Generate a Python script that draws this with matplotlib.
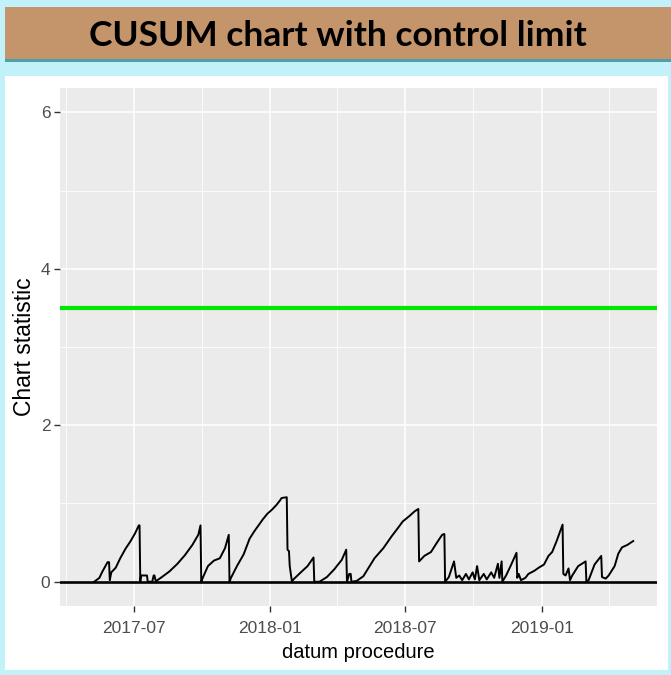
import numpy as np
import pandas as pd
import matplotlib
matplotlib.use("Agg")
import matplotlib.pyplot as plt
import matplotlib.dates as mdates
from matplotlib.patches import Rectangle

# CUSUM vertices
dates = [
    "2017-05-09", "2017-05-16", "2017-05-20", "2017-05-24", "2017-05-27", "2017-05-29",
    "2017-05-30", "2017-06-01", "2017-06-07", "2017-06-13", "2017-06-20", "2017-06-27",
    "2017-07-03", "2017-07-08", "2017-07-09", "2017-07-10", "2017-07-11", "2017-07-19",
    "2017-07-20", "2017-07-26", "2017-07-28", "2017-07-29", "2017-07-31", "2017-08-02",
    "2017-08-08", "2017-08-18", "2017-08-29", "2017-09-08", "2017-09-18", "2017-09-26",
    "2017-09-29", "2017-09-30", "2017-10-02", "2017-10-09", "2017-10-17", "2017-10-25",
    "2017-11-01", "2017-11-06", "2017-11-07", "2017-11-09", "2017-11-17", "2017-11-26",
    "2017-12-04", "2017-12-10", "2017-12-16", "2017-12-22", "2017-12-28", "2018-01-03",
    "2018-01-09", "2018-01-14", "2018-01-16", "2018-01-23", "2018-01-24", "2018-01-26",
    "2018-01-27", "2018-01-30", "2018-02-01", "2018-02-12", "2018-02-20", "2018-02-28",
    "2018-03-01", "2018-03-08", "2018-03-18", "2018-03-28", "2018-04-07", "2018-04-13",
    "2018-04-14", "2018-04-17", "2018-04-19", "2018-04-20", "2018-04-27", "2018-05-06",
    "2018-05-21", "2018-06-02", "2018-06-13", "2018-06-21", "2018-06-28", "2018-07-07",
    "2018-07-14", "2018-07-19", "2018-07-20", "2018-07-27", "2018-08-05", "2018-08-13",
    "2018-08-20", "2018-08-23", "2018-08-24", "2018-08-29", "2018-09-05", "2018-09-08",
    "2018-09-12", "2018-09-16", "2018-09-21", "2018-09-25", "2018-09-30", "2018-10-03",
    "2018-10-06", "2018-10-09", "2018-10-15", "2018-10-19", "2018-10-25", "2018-10-29",
    "2018-11-03", "2018-11-05", "2018-11-08", "2018-11-09", "2018-11-14", "2018-11-20",
    "2018-11-28", "2018-11-29", "2018-12-01", "2018-12-04", "2018-12-10", "2018-12-14",
    "2018-12-22", "2018-12-28", "2019-01-04", "2019-01-10", "2019-01-15", "2019-01-21",
    "2019-01-29", "2019-01-30", "2019-02-02", "2019-02-06", "2019-02-08", "2019-02-11",
    "2019-02-19", "2019-03-01", "2019-03-02", "2019-03-05", "2019-03-13", "2019-03-22",
    "2019-03-23", "2019-03-28", "2019-04-01", "2019-04-09", "2019-04-14", "2019-04-19",
    "2019-04-26", "2019-05-04",
]
cusum = [
    0.00, 0.05, 0.13, 0.20, 0.25, 0.25,
    0.02, 0.12, 0.18, 0.30, 0.42, 0.52,
    0.62, 0.72, 0.72, 0.00, 0.08, 0.08,
    0.00, 0.00, 0.08, 0.08, 0.00, 0.02,
    0.06, 0.13, 0.23, 0.34, 0.47, 0.60,
    0.72, 0.00, 0.05, 0.20, 0.27, 0.30,
    0.43, 0.60, 0.00, 0.05, 0.20, 0.35,
    0.55, 0.64, 0.72, 0.80, 0.87, 0.92,
    0.98, 1.04, 1.07, 1.08, 0.41, 0.39,
    0.20, 0.00, 0.03, 0.13, 0.20, 0.31,
    0.00, 0.00, 0.06, 0.16, 0.28, 0.41,
    0.00, 0.10, 0.10, 0.00, 0.01, 0.07,
    0.30, 0.43, 0.58, 0.68, 0.77, 0.84,
    0.90, 0.93, 0.26, 0.33, 0.38, 0.50,
    0.60, 0.61, 0.00, 0.06, 0.26, 0.05,
    0.08, 0.02, 0.10, 0.03, 0.12, 0.03,
    0.20, 0.02, 0.10, 0.03, 0.12, 0.05,
    0.23, 0.05, 0.26, 0.00, 0.08, 0.20,
    0.37, 0.05, 0.10, 0.02, 0.05, 0.10,
    0.14, 0.18, 0.22, 0.33, 0.38, 0.52,
    0.73, 0.10, 0.08, 0.17, 0.02, 0.08,
    0.20, 0.26, 0.00, 0.02, 0.22, 0.33,
    0.06, 0.04, 0.08, 0.20, 0.36, 0.44,
    0.47, 0.52,
]
control_limit = 3.5
title = "CUSUM chart with control limit"
x_label = "datum procedure"
y_label = "Chart statistic"
x_range = ["2017-03-24", "2019-06-05"]
x_major = ["2017-07-01", "2018-01-01", "2018-07-01", "2019-01-01"]
x_minor = ["2017-04-01", "2017-10-01", "2018-04-01", "2018-10-01", "2019-04-01"]

W, H = 671, 675
fig = plt.figure(figsize=(W / 100, H / 100), dpi=100)
fig.patch.set_facecolor("#c2f1f9")

def box(x0, y0, x1, y1, **kw):
    # rectangle given in pixel coords (top-left origin), kept behind the axes
    fig.add_artist(Rectangle((x0 / W, 1 - y1 / H), (x1 - x0) / W, (y1 - y0) / H,
                             transform=fig.transFigure, zorder=-10, **kw))

# banner and white plot area
box(5, 7, 671, 61, facecolor="#c4946a", edgecolor="none")
box(5, 59, 671, 62, facecolor="#4f9fa8", edgecolor="none")
box(5, 76, 668, 670, facecolor="white", edgecolor="none")
fig.text(338 / W, 1 - 36 / H, title, ha="center", va="center",
         fontsize=25.5, fontweight="bold", family="Lato", color="black")

ax = fig.add_axes([60 / W, 1 - 606 / H, 597 / W, 518 / H])
ax.set_facecolor("#ebebeb")
for s in ax.spines.values():
    s.set_visible(False)

d = pd.to_datetime(dates)
ax.axhline(control_limit, color="#00e600", lw=3.0, zorder=3)
ax.axhline(0, color="black", lw=1.9, zorder=3)
ax.plot(d, cusum, color="black", lw=1.4, zorder=4)

ax.set_xlim(pd.to_datetime(x_range[0]), pd.to_datetime(x_range[1]))
ax.set_ylim(-0.31, 6.31)
ax.set_xticks(pd.to_datetime(x_major))
ax.set_xticks(pd.to_datetime(x_minor), minor=True)
ax.xaxis.set_major_formatter(mdates.DateFormatter("%Y-%m"))
ax.set_yticks([0, 2, 4, 6])
ax.set_yticks([1, 3, 5], minor=True)

ax.grid(which="major", color="white", lw=1.1)
ax.grid(which="minor", color="white", lw=0.55)
ax.set_axisbelow(True)
ax.tick_params(which="major", length=4, width=1, color="#333333", labelcolor="#4d4d4d",
               labelsize=12.5)
ax.tick_params(axis="x", pad=7)
ax.tick_params(axis="y", pad=3)
ax.tick_params(which="minor", length=0)
for lab in ax.get_xticklabels() + ax.get_yticklabels():
    lab.set_family("Liberation Sans")

ax.set_xlabel(x_label, fontsize=14.5, family="Liberation Sans", color="black", labelpad=5)
ax.set_ylabel(y_label, fontsize=16.5, family="Liberation Sans", color="black", labelpad=3)

fig.savefig("out.png", dpi=100, facecolor=fig.get_facecolor())
